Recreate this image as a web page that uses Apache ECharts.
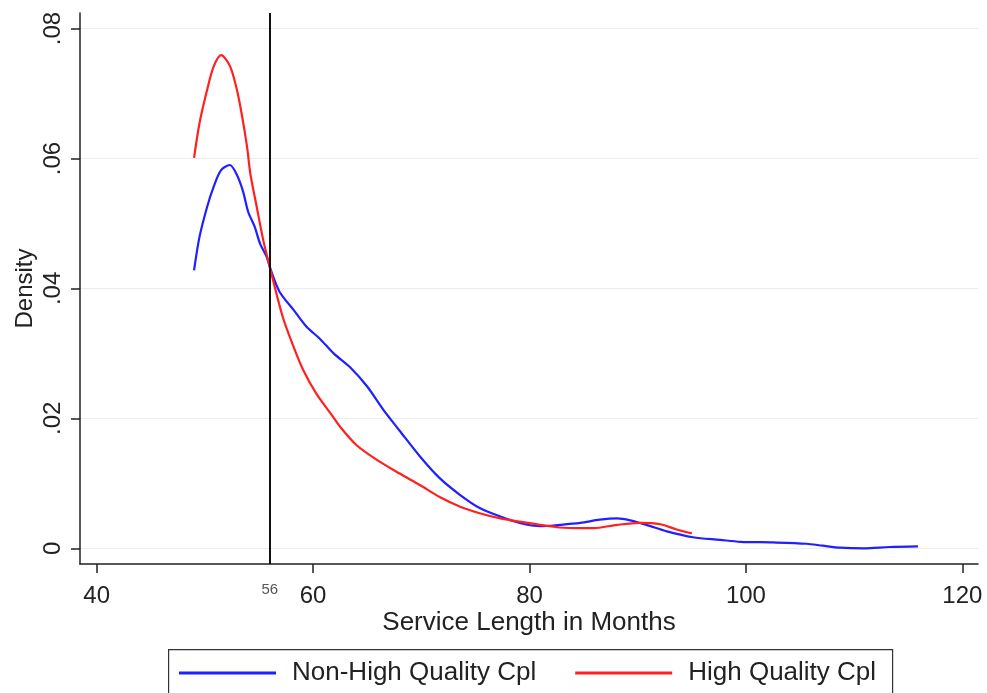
<!DOCTYPE html>
<html>
<head>
<meta charset="utf-8">
<script src="https://cdn.jsdelivr.net/npm/echarts@6/dist/echarts.min.js"></script>
<style>
html,body{margin:0;padding:0;background:#fff;}
#chart{width:987px;height:693px;}
</style>
</head>
<body>
<div id="chart"></div>
<script>
// Non-High Quality Cpl (blue)
var blueX = [49.0, 49.5, 50.2, 50.8, 51.5, 52.3, 52.9, 53.5, 54.0, 54.6, 55.1, 55.7, 56.1, 56.9, 58.2, 59.4, 60.6, 61.9, 63.4, 65.0, 66.5, 68.0, 69.9, 71.7, 73.6, 75.4, 77.3, 79.1, 81.0, 82.8, 84.7, 86.5, 88.1, 89.3, 90.8, 92.7, 95.1, 97.6, 99.5, 102.5, 105.6, 107.1, 108.7, 110.9, 113.3, 115.9];
var blueY = [.0428, .0479, .0525, .0556, .0582, .0590, .0577, .0551, .0518, .0495, .0469, .0449, .0428, .0395, .0367, .0341, .0323, .0300, .0279, .0249, .0213, .0181, .0141, .0108, .0082, .0062, .0049, .0039, .0034, .0036, .0039, .0044, .0046, .0043, .0036, .0026, .0017, .0013, .0010, .0009, .0007, .0004, .0001, .0000, .0002, .0003];
// High Quality Cpl (red)
var redX = [49.0, 49.5, 50.2, 50.8, 51.5, 52.3, 52.9, 53.4, 53.9, 54.2, 54.8, 55.4, 56.0, 57.2, 58.2, 59.1, 60.3, 61.6, 62.5, 64.0, 65.9, 68.0, 69.9, 71.7, 73.6, 75.4, 77.3, 79.1, 81.0, 82.8, 84.7, 85.9, 88.1, 90.2, 92.1, 93.6, 95.0];
var redY = [.0601, .0654, .0705, .0741, .0759, .0743, .0710, .0669, .0618, .0577, .0525, .0474, .0433, .0356, .0310, .0274, .0238, .0208, .0187, .0159, .0136, .0115, .0097, .0079, .0064, .0054, .0046, .0041, .0036, .0032, .0031, .0031, .0036, .0039, .0037, .0029, .0023];
var xTicks = [40, 60, 80, 100, 120];
var yTicks = [0, 0.02, 0.04, 0.06, 0.08];
var cutoff = [56];
var seriesNames = ['Non-High Quality Cpl', 'High Quality Cpl'];

var FONT = "'Liberation Sans', Arial, sans-serif";
function pairs(xs, ys) { return xs.map(function (x, i) { return [x, ys[i]]; }); }
function yFmt(v) { return v === 0 ? '0' : v.toFixed(2).replace(/^0/, ''); }

var chart = echarts.init(document.getElementById('chart'), null, {renderer: 'canvas'});
chart.setOption({
  animation: false,
  backgroundColor: '#fff',
  textStyle: {fontFamily: FONT},
  grid: {left: 80, right: 9, top: 13, bottom: 129, containLabel: false, outerBoundsMode: 'none'},
  xAxis: [{
    type: 'value', min: 38.46, max: 121.45,
    name: 'Service Length in Months', nameLocation: 'middle', nameGap: 46, nameMoveOverlap: false,
    nameTextStyle: {fontSize: 26, color: '#222', fontFamily: FONT},
    axisLine: {show: true, onZero: false, lineStyle: {color: '#222', width: 1.5}},
    axisTick: {show: true, length: 9, customValues: xTicks, lineStyle: {color: '#222', width: 1.5}},
    axisLabel: {customValues: xTicks, fontSize: 24, color: '#222', margin: 20, fontFamily: FONT},
    splitLine: {show: false}
  }, {
    type: 'value', min: 38.46, max: 121.45, position: 'bottom',
    axisLine: {show: false},
    axisTick: {show: true, length: 10, customValues: cutoff, lineStyle: {color: '#111', width: 2}},
    axisLabel: {customValues: cutoff, fontSize: 15, color: '#555', margin: 18, fontFamily: FONT},
    splitLine: {show: false}
  }],
  yAxis: {
    type: 'value', min: -0.00242, max: 0.0824,
    name: 'Density', nameLocation: 'middle', nameGap: 43, nameRotate: 90, nameMoveOverlap: false,
    nameTextStyle: {fontSize: 24, color: '#222', fontFamily: FONT},
    axisLine: {show: true, onZero: false, lineStyle: {color: '#222', width: 1.5}},
    axisTick: {show: true, length: 9, customValues: yTicks, lineStyle: {color: '#222', width: 1.5}},
    axisLabel: {customValues: yTicks, rotate: 90, fontSize: 24, color: '#222', margin: 15, formatter: yFmt, fontFamily: FONT},
    splitLine: {show: true, lineStyle: {color: '#e6eff1', width: 1}}
  },
  legend: {
    show: true, left: 179, top: 660, orient: 'horizontal', padding: 0,
    icon: 'rect', itemWidth: 97, itemHeight: 3, itemGap: 39,
    textStyle: {fontSize: 26, color: '#222', fontFamily: FONT, padding: [0, 0, 0, 11]},
    data: seriesNames
  },
  graphic: [{
    type: 'rect', left: 168, top: 649, z: -1,
    shape: {width: 724, height: 60},
    style: {fill: '#fff', stroke: '#333', lineWidth: 1.2}
  }],
  series: [{
    name: seriesNames[0], type: 'line', data: pairs(blueX, blueY),
    showSymbol: false, smooth: 0.3, color: '#1f1fff',
    lineStyle: {color: '#1f1fff', width: 2.2},
    markLine: {
      silent: true, symbol: 'none', label: {show: false},
      lineStyle: {color: '#111', width: 2, type: 'solid'},
      data: [{xAxis: cutoff[0]}]
    }
  }, {
    name: seriesNames[1], type: 'line', data: pairs(redX, redY),
    showSymbol: false, smooth: 0.3, color: '#ff2020',
    lineStyle: {color: '#ff2020', width: 2.2}
  }]
});
</script>
</body>
</html>
